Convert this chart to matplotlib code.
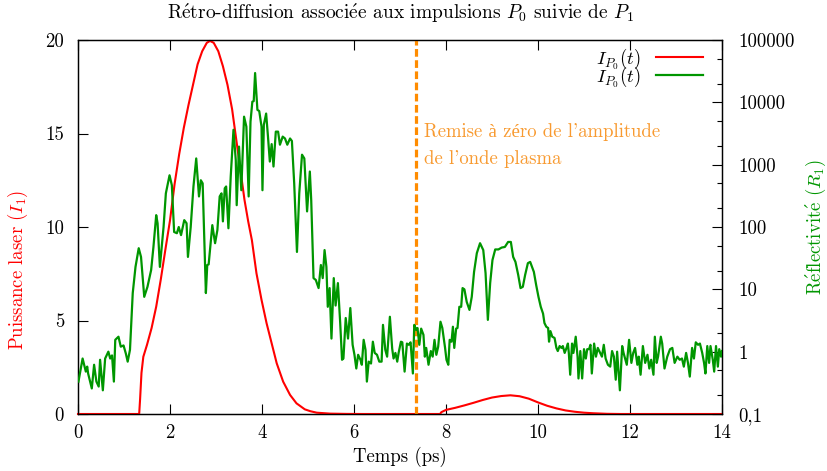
import numpy as np
import matplotlib
matplotlib.use("Agg")
import matplotlib.pyplot as plt
from matplotlib.ticker import FixedLocator, FixedFormatter, LogLocator, NullFormatter

plt.rcParams['font.family'] = ['cmr10', 'Liberation Serif', 'DejaVu Serif']
plt.rcParams['mathtext.fontset'] = 'cm'
plt.rcParams['axes.formatter.use_mathtext'] = True
plt.rcParams['axes.unicode_minus'] = False

# ---------------- data ----------------
# laser power I_1 (left axis)
laser_time = [0.0, 1.33, 1.35, 1.38, 1.42, 1.50, 1.60, 1.70, 1.80, 1.90, 2.00, 2.10,
              2.20, 2.30, 2.40, 2.50, 2.60, 2.70, 2.80, 2.87, 2.95, 3.05, 3.15, 3.25,
              3.35, 3.45, 3.55, 3.62, 3.70, 3.78, 3.88, 3.99, 4.10, 4.21, 4.32, 4.46,
              4.61, 4.75, 4.93, 5.05, 5.19, 5.48, 5.84, 6.20,
              7.87, 7.90, 8.00, 8.20, 8.40, 8.60, 8.80, 9.00, 9.20, 9.40, 9.60, 9.80,
              10.00, 10.20, 10.40, 10.60, 10.80, 11.00, 11.20, 11.50, 11.80, 14.0]
laser_power = [0.0, 0.0, 0.8, 2.2, 3.06, 3.7, 4.6, 5.74, 7.2, 8.8, 10.35, 12.3,
               13.9, 15.3, 16.5, 17.6, 18.7, 19.4, 19.85, 19.95, 19.85, 19.4, 18.6, 17.6,
               16.3, 14.5, 12.7, 11.44, 10.3, 9.3, 7.52, 6.10, 4.85, 3.78, 2.71, 1.73,
               1.02, 0.57, 0.25, 0.15, 0.07, 0.02, 0.005, 0.0,
               0.0, 0.1, 0.22, 0.33, 0.46, 0.6, 0.75, 0.88, 0.96, 1.0, 0.95, 0.82,
               0.62, 0.44, 0.30, 0.19, 0.12, 0.07, 0.04, 0.01, 0.0, 0.0]

# reflectivity R_1 (right axis), read as decade exponents
refl_time = [
    0.01, 0.10, 0.17, 0.20, 0.22, 0.30, 0.35, 0.40, 0.45, 0.48, 0.54, 0.59, 0.66, 0.70,
    0.74, 0.78, 0.81, 0.88, 0.93, 0.99, 1.04, 1.08, 1.13, 1.19, 1.25, 1.32, 1.37, 1.44,
    1.51, 1.59, 1.64, 1.70, 1.73, 1.78, 1.86, 1.91, 1.99, 2.04, 2.09, 2.15, 2.19, 2.24,
    2.31, 2.36, 2.39, 2.45, 2.51, 2.57, 2.63, 2.67, 2.71, 2.78, 2.81, 2.84, 2.92, 2.98,
    3.03, 3.08, 3.12, 3.15, 3.19, 3.22, 3.27, 3.32, 3.38, 3.43, 3.45, 3.50, 3.55, 3.61,
    3.66, 3.71, 3.75, 3.79, 3.82, 3.85, 3.90, 3.94, 3.99, 4.01, 4.04, 4.09, 4.13, 4.17,
    4.21, 4.25, 4.30, 4.35, 4.39, 4.45, 4.50, 4.55, 4.61, 4.65, 4.70, 4.76, 4.81, 4.87,
    4.92, 4.98, 5.04, 5.07, 5.12, 5.17, 5.23, 5.28, 5.32, 5.36, 5.40, 5.43, 5.47, 5.51,
    5.56, 5.60, 5.65, 5.70, 5.74, 5.77, 5.82, 5.87, 5.92, 5.97, 6.01, 6.05, 6.09, 6.14,
    6.17, 6.21, 6.25, 6.28, 6.32, 6.37, 6.41, 6.45, 6.50, 6.55, 6.60, 6.63, 6.68, 6.72,
    6.78, 6.83, 6.86, 6.90, 6.94, 6.97, 7.02, 7.05, 7.10, 7.15, 7.19, 7.23, 7.28, 7.31,
    7.35, 7.38, 7.42, 7.46, 7.51, 7.54, 7.57, 7.62, 7.67, 7.71, 7.75, 7.79, 7.83, 7.88,
    7.92, 7.98, 8.01, 8.05, 8.08, 8.12, 8.15, 8.18, 8.22, 8.25, 8.29, 8.33, 8.36, 8.40,
    8.45, 8.51, 8.56, 8.61, 8.67, 8.74, 8.81, 8.86, 8.91, 8.96, 9.01, 9.07, 9.14, 9.21,
    9.28, 9.35, 9.41, 9.46, 9.51, 9.57, 9.62, 9.67, 9.72, 9.78, 9.83, 9.87, 9.91, 9.96,
    10.01, 10.06, 10.11, 10.14, 10.18, 10.22, 10.24, 10.27, 10.31, 10.36, 10.40, 10.43,
    10.47, 10.51, 10.54, 10.58, 10.62, 10.65, 10.67, 10.70, 10.74, 10.77, 10.82, 10.86,
    10.88, 10.92, 10.96, 11.00, 11.04, 11.07, 11.11, 11.14, 11.17, 11.22, 11.26, 11.30,
    11.35, 11.39, 11.43, 11.47, 11.52, 11.57, 11.61, 11.65, 11.69, 11.72, 11.78, 11.83,
    11.86, 11.93, 11.98, 12.03, 12.07, 12.11, 12.16, 12.19, 12.23, 12.28, 12.33, 12.38,
    12.42, 12.46, 12.51, 12.54, 12.58, 12.61, 12.67, 12.70, 12.75, 12.81, 12.87, 12.92,
    12.97, 13.03, 13.08, 13.13, 13.17, 13.22, 13.26, 13.30, 13.35, 13.39, 13.43, 13.48,
    13.52, 13.57, 13.61, 13.64, 13.68, 13.72, 13.75, 13.80, 13.83, 13.87, 13.91, 13.94,
    13.98, 14.00]
refl_log10 = [
    -0.48, -0.11, -0.32, -0.24, -0.35, -0.59, -0.21, -0.48, -0.56, -0.13, -0.62, -0.11, 0.00, -0.11,
    -0.06, -0.48, 0.19, 0.24, 0.08, 0.10, -0.03, -0.16, 0.03, 0.94, 1.36, 1.66, 1.52, 0.88,
    1.04, 1.31, 1.68, 2.19, 2.06, 1.36, 2.00, 2.54, 2.83, 2.67, 1.92, 1.90, 2.00, 1.87,
    2.11, 2.06, 1.52, 2.00, 2.65, 3.10, 2.49, 2.75, 2.70, 0.94, 1.39, 1.40, 2.03, 1.74,
    1.95, 2.49, 2.54, 2.09, 2.62, 2.65, 1.98, 2.81, 3.56, 3.07, 2.35, 3.29, 2.59, 3.77,
    3.61, 2.49, 3.69, 4.01, 4.02, 4.47, 3.88, 3.86, 3.61, 2.59, 3.64, 3.82, 3.45, 3.05,
    3.33, 2.97, 3.53, 3.53, 3.32, 3.45, 3.42, 3.32, 3.42, 3.38, 2.70, 1.60, 2.54, 3.16,
    3.10, 2.25, 2.89, 2.43, 1.18, 1.15, 1.02, 1.39, 1.18, 1.63, 1.36, 0.72, 1.02, 0.21,
    1.18, 0.74, 1.10, 0.46, -0.13, -0.11, 0.54, 0.21, 0.70, 0.11, -0.05, -0.27, -0.05, -0.13,
    -0.21, 0.19, 0.03, -0.48, -0.16, -0.19, 0.16, -0.02, -0.05, -0.16, -0.16, 0.43, 0.03, -0.08,
    0.56, 0.05, -0.11, -0.02, -0.16, -0.02, 0.16, 0.15, -0.32, 0.13, 0.11, 0.15, -0.35, 0.43,
    0.35, 0.38, 0.11, 0.37, 0.27, -0.08, 0.06, -0.21, 0.01, -0.08, 0.19, -0.05, 0.08, 0.48,
    0.38, 0.06, -0.13, -0.21, 0.19, 0.16, 0.40, 0.06, 0.37, 0.38, 0.72, 0.72, 1.02, 1.00,
    0.80, 0.67, 0.88, 1.28, 1.58, 1.74, 1.63, 1.26, 0.51, 1.10, 1.47, 1.64, 1.64, 1.67,
    1.68, 1.76, 1.76, 1.52, 1.44, 1.23, 1.02, 1.04, 1.23, 1.42, 1.44, 1.36, 1.28, 1.07,
    0.88, 0.72, 0.61, 0.46, 0.40, 0.38, 0.16, 0.33, 0.24, 0.22, 0.06, 0.01,
    0.09, 0.06, 0.09, -0.02, 0.06, 0.13, -0.02, -0.37, 0.13, -0.02, 0.24, -0.08,
    -0.43, 0.01, -0.43, 0.04, -0.11, 0.04, 0.04, 0.11, -0.35, 0.13, -0.08, 0.06,
    -0.02, -0.08, 0.11, -0.11, -0.21, -0.24, 0.01, -0.08, -0.45, 0.00, -0.62, 0.09,
    -0.02, -0.21, 0.19, -0.18, -0.02, 0.06, -0.21, -0.08, -0.37, 0.09, -0.18, -0.05,
    -0.27, -0.13, -0.37, 0.24, -0.18, -0.08, 0.24, 0.13, -0.27, -0.08, 0.04, 0.06,
    -0.18, -0.08, -0.13, -0.11, -0.24, -0.02, -0.18, -0.40, 0.06, -0.11, 0.15, 0.11,
    0.13, -0.02, -0.18, -0.35, 0.09, -0.18, 0.09, -0.13, -0.32, 0.09, -0.24, 0.04,
    -0.08, 0.01]

reset_time = 7.35

x_ticks = [0, 2, 4, 6, 8, 10, 12, 14]
y_ticks = [0, 5, 10, 15, 20]
y2_ticks = [0.1, 1, 10, 100, 1000, 10000, 100000]
y2_labels = ["0,1", "1", "10", "100", "1000", "10000", "100000"]

E_ACUTE = r"$\mathrm{\acute{e}}$"
title = ("R" + E_ACUTE + "tro-diffusion associ" + E_ACUTE +
         r"e aux impulsions $P_0$ suivie de $P_1$")
xlabel = "Temps (ps)"
ylabel = r"Puissance laser $(I_1)$"
y2label = "R" + E_ACUTE + "flectivit" + E_ACUTE + r" $(R_1)$"
legend_labels = [r"$I_{P_0}(t)$", r"$I_{P_0}(t)$"]
note_lines = ["Remise à zéro de l'amplitude", "de l'onde plasma"]

RED = "#ff0000"
GREEN = "#009600"
ORANGE = "#ff8c00"
NOTE = "#f89a30"
FS = 13.5

# ---------------- figure ----------------
fig = plt.figure(figsize=(8.27, 4.71), dpi=100)
ax = fig.add_axes([78 / 827, 1 - 414 / 471, 644 / 827, 374 / 471])
ax2 = ax.twinx()

refl = np.power(10.0, np.array(refl_log10))

l_red, = ax.plot(laser_time, laser_power, color=RED, lw=1.5, clip_on=False, zorder=3)
l_green, = ax2.plot(refl_time, refl, color=GREEN, lw=1.6, zorder=3)

ax.axvline(reset_time, color=ORANGE, lw=2.3, dashes=(2.4, 1.1), zorder=4)

ax.set_xlim(0, 14)
ax.set_ylim(0, 20)
ax2.set_yscale('log')
ax2.set_ylim(0.1, 1e5)

ax.set_xticks(x_ticks)
ax.set_xticklabels([str(v) for v in x_ticks])
ax.set_yticks(y_ticks)
ax.set_yticklabels([str(v) for v in y_ticks])
ax2.yaxis.set_major_locator(FixedLocator(y2_ticks))
ax2.yaxis.set_major_formatter(FixedFormatter(y2_labels))
ax2.yaxis.set_minor_locator(LogLocator(base=10, subs=(2.0, 5.0), numticks=20))
ax2.yaxis.set_minor_formatter(NullFormatter())

ax.tick_params(axis='x', which='major', direction='in', top=True, bottom=True,
               length=7, width=0.8, labelsize=FS, pad=7)
ax.tick_params(axis='y', which='major', direction='in', left=True, right=False,
               length=7, width=0.8, labelsize=FS, pad=10)
ax2.tick_params(axis='y', which='major', direction='in', right=True, left=False,
                length=7, width=0.8, labelsize=FS, pad=12)
ax2.tick_params(axis='y', which='minor', direction='in', right=True, left=False,
                length=3.5, width=0.8)

for a in (ax, ax2):
    for s in a.spines.values():
        s.set_linewidth(0.9)

ax.set_title(title, fontsize=14, pad=15)
ax.set_xlabel(xlabel, fontsize=FS, labelpad=3.5)
ax.set_ylabel(ylabel, fontsize=FS, color=RED)
ax.yaxis.set_label_coords(-0.074, 0.385)
ax2.set_ylabel(y2label, fontsize=FS, color=GREEN, rotation=90)
ax2.yaxis.set_label_coords(1.127, 0.5)

ax.text(7.52, 14.80, note_lines[0], fontsize=FS, color=NOTE, va='baseline', ha='left')
ax.text(7.52, 13.37, note_lines[1], fontsize=FS, color=NOTE, va='baseline', ha='left')

ax2.legend([l_red, l_green], legend_labels, loc='upper right',
           bbox_to_anchor=(0.9705, 0.983), frameon=False, markerfirst=False,
           handlelength=2.5, handletextpad=0.8, labelspacing=-0.38,
           fontsize=FS, borderpad=0, borderaxespad=0)

fig.savefig("out.png", dpi=100)
